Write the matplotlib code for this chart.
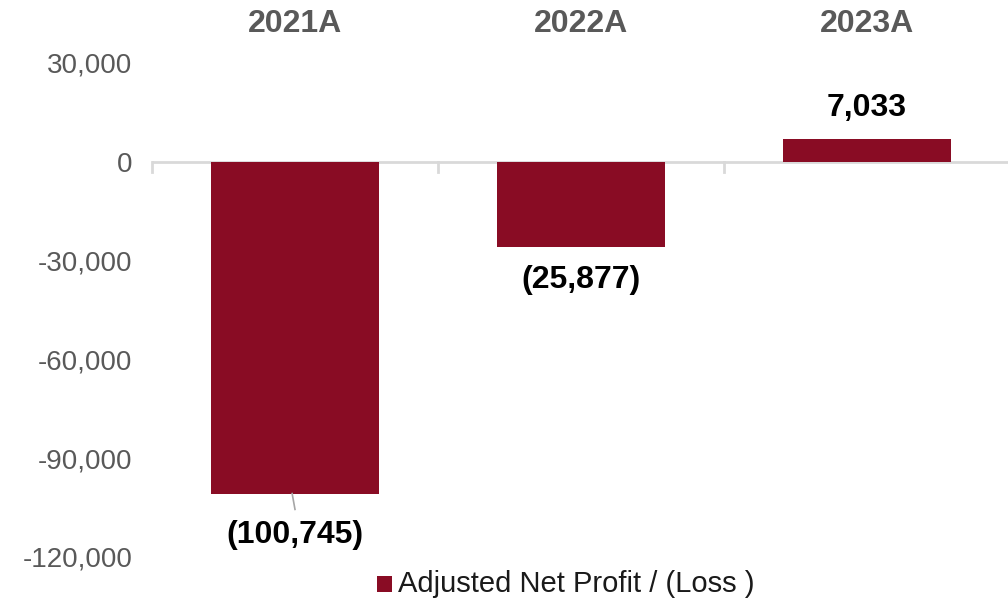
import matplotlib

matplotlib.use("Agg")
import matplotlib.pyplot as plt
from matplotlib.patches import Rectangle

categories = ["2021A", "2022A", "2023A"]
values = [-100745, -25877, 7033]
value_labels = ["(100,745)", "(25,877)", "7,033"]
y_ticks = [30000, 0, -30000, -60000, -90000, -120000]
legend_label = "Adjusted Net Profit / (Loss )"

bar_colour = "#890C24"
grey = "#595959"
axis_grey = "#D9D9D9"

plt.rcParams["font.family"] = ["Liberation Sans", "DejaVu Sans"]

fig = plt.figure(figsize=(10.08, 6.03), dpi=100)
ax = fig.add_axes([152 / 1008, 46 / 603, 858 / 1008, 494 / 603])

x = list(range(len(categories)))
ax.bar(x, values, width=0.587, color=bar_colour, zorder=2)
ax.set_xlim(-0.5, 2.5)
ax.set_ylim(-120000, 30000)

for side in ("left", "right", "top", "bottom"):
    ax.spines[side].set_visible(False)
ax.axhline(0, color=axis_grey, linewidth=2, zorder=1)
for bx in (-0.5, 0.5, 1.5, 2.5):
    ax.plot([bx, bx], [0, -3000], color=axis_grey, linewidth=2, zorder=1, clip_on=False)

ax.set_xticks([])
ax.set_yticks(y_ticks)
ax.set_yticklabels([f"{v:,}" for v in y_ticks], fontsize=20, color=grey)
ax.tick_params(axis="y", length=0, pad=14)

for xi, name in zip(x, categories):
    ax.text(xi, 1.079, name, transform=ax.get_xaxis_transform(), ha="center", va="center",
            fontsize=23, fontweight="bold", color=grey)

# value labels
ax.text(x[2], values[2] + 9300, value_labels[2], ha="center", va="center",
        fontsize=23, fontweight="bold", color="black")
ax.text(x[1], values[1] - 10000, value_labels[1], ha="center", va="center",
        fontsize=23, fontweight="bold", color="black")
ax.text(x[0], values[0] - 12600, value_labels[0], ha="center", va="center",
        fontsize=23, fontweight="bold", color="black")
ax.plot([x[0] - 0.01, x[0]], [values[0], values[0] - 4800], color="#A6A6A6", linewidth=1.2)

# legend
fig.patches.append(Rectangle((377 / 1008, 1 - 592 / 603), 15 / 1008, 16 / 603,
                             transform=fig.transFigure, facecolor=bar_colour, edgecolor="none"))
fig.text(398 / 1008, 1 - 584 / 603, legend_label, ha="left", va="center", fontsize=21, color="#1A1A1A")

fig.savefig("out.png", dpi=100)
